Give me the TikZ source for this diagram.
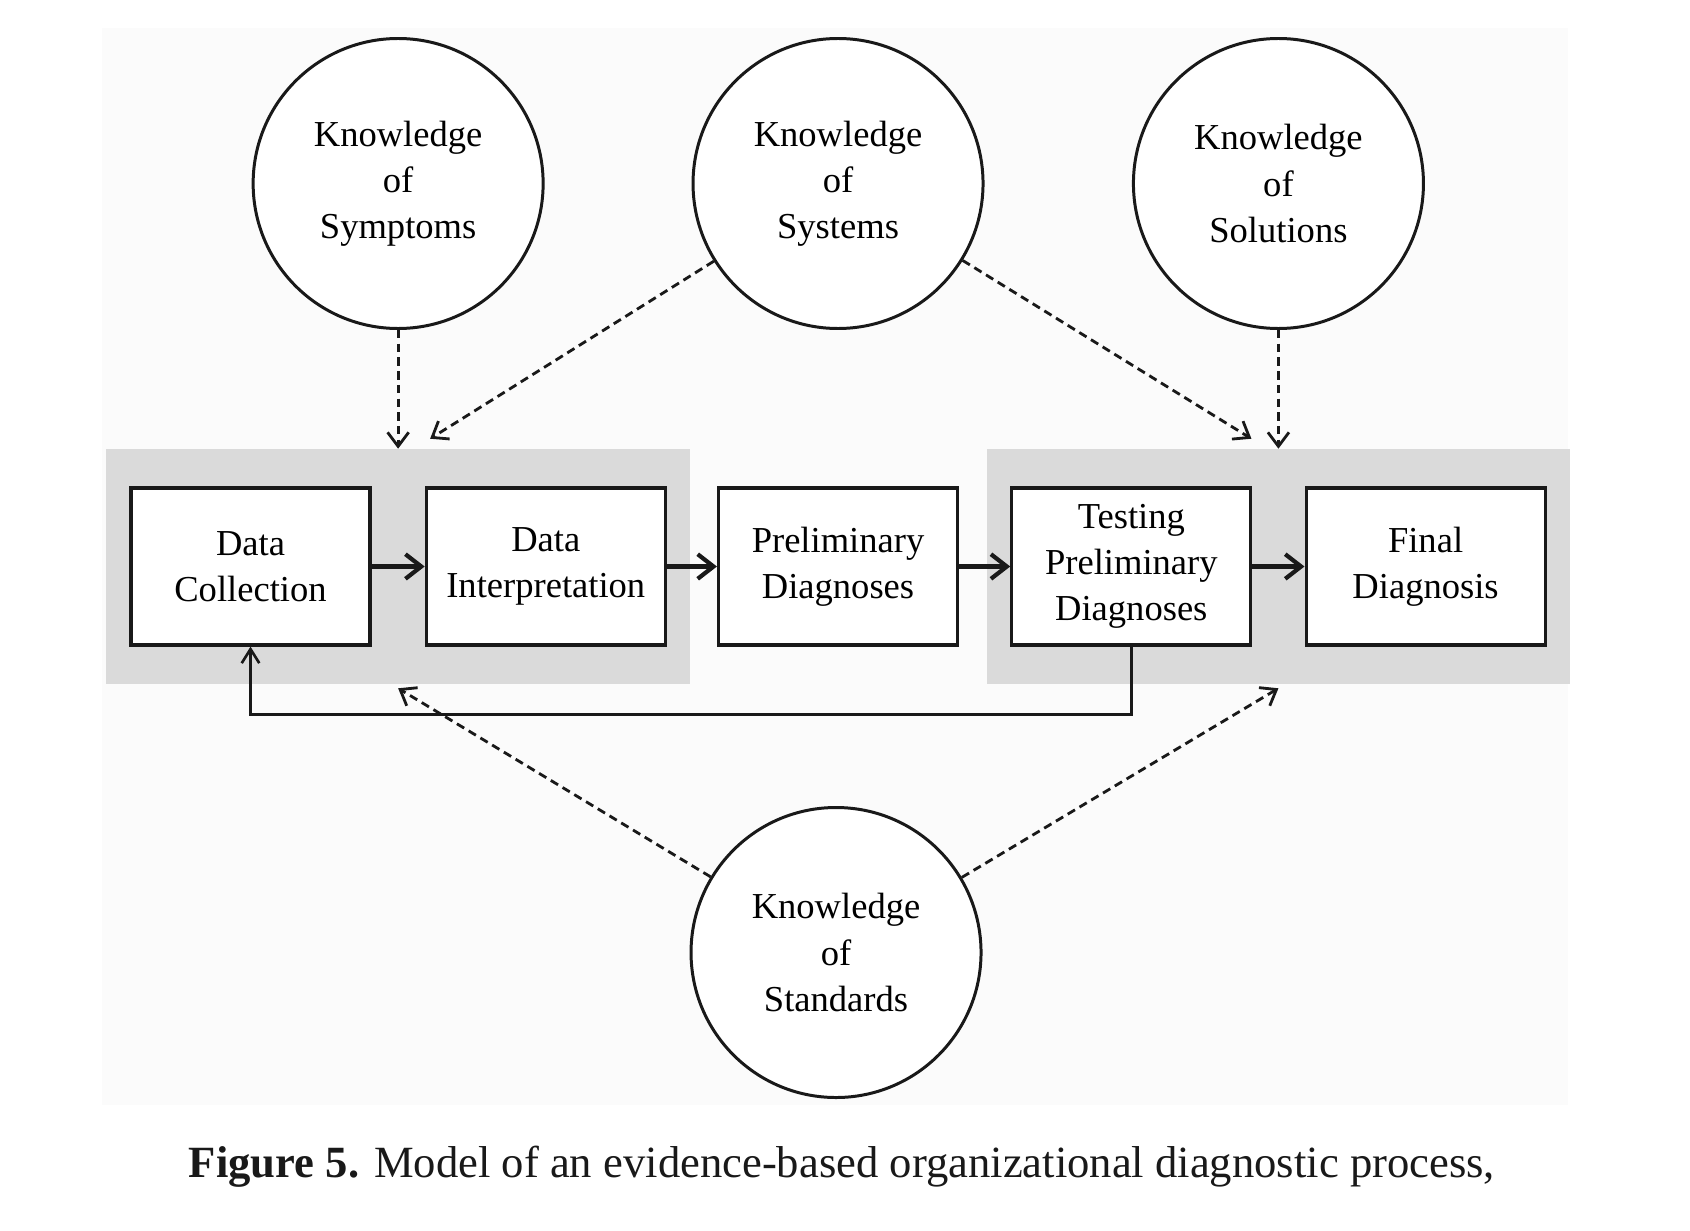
\documentclass[tikz,border=0pt]{standalone}
\usepackage{fontspec}
\setmainfont{Liberation Serif}
\usepackage{tikz}
\usetikzlibrary{arrows.meta,positioning,fit,calc,backgrounds}
\definecolor{bwblack}{RGB}{25,25,25}
\definecolor{bwshade}{RGB}{218,218,218}
\definecolor{bwpaper}{RGB}{251,251,251}
\newcommand{\boxfont}{\fontsize{10.4}{13.1}\selectfont}

\begin{document}
\begin{tikzpicture}[
    proc/.style={draw=bwblack,fill=white,line width=0.9pt,
                 minimum width=2.39cm,minimum height=1.57cm,align=center,
                 inner sep=1pt,font=\boxfont},
    know/.style={circle,draw=bwblack,fill=white,line width=0.85pt,
                 minimum size=2.9cm,align=center,font=\boxfont},
    stage/.style={fill=bwshade,inner xsep=0.23cm,inner ysep=0.37cm},
    arr/.style={-{Straight Barb[length=4.5pt,width=7pt,line width=1.2pt]},line width=1.2pt,bwblack},
    back/.style={-{Straight Barb[length=4pt,width=5pt]},line width=0.75pt,bwblack},
    darr/.style={-{Straight Barb[length=4pt,width=6pt]},line width=0.8pt,
                 dash pattern=on 2.4pt off 1.5pt,bwblack}
  ]
    \useasboundingbox (0,0) rectangle (16.9,-12.3);

    % process steps
    \node[proc] (dc) at (2.505,-5.665) {Data\\Collection};
    \node[proc,right=0.531cm of dc] (di) {Data\\Interpretation};
    \node[proc,right=0.501cm of di] (pd) {Preliminary\\Diagnoses};
    \node[proc,right=0.511cm of pd] (tpd) {Testing\\Preliminary\\Diagnoses};
    \node[proc,right=0.521cm of tpd] (fd) {Final\\Diagnosis};

    % knowledge bases
    \node[know] (symp) at ($(dc)!0.5!(di)+(0,3.83)$) {Knowledge\\of\\Symptoms};
    \node[know] (sys) at ($(pd)+(0,3.83)$) {Knowledge\\of\\Systems};
    \node[know] (sol) at ($(tpd)!0.5!(fd)+(0,3.83)$) {Knowledge\\of\\Solutions};
    \node[know] (std) at ($(pd)+(-0.02,-3.86)$) {Knowledge\\of\\Standards};

    \begin{scope}[on background layer]
      \fill[bwpaper] (1.02,-0.28) rectangle (15.68,-11.05);
      \node[stage,fit=(dc)(di)] (stg1) {};
      \node[stage,fit=(tpd)(fd)] (stg2) {};
    \end{scope}

    \draw[arr] (dc) -- (di);
    \draw[arr] (di) -- (pd);
    \draw[arr] (pd) -- (tpd);
    \draw[arr] (tpd) -- (fd);
    \draw[back] (tpd.south) -- ++(0,-0.68) -| (dc.south);

    \coordinate (inL) at ($(symp |- stg1.north)+(0.32,0.1)$);
    \coordinate (inR) at ($(sol |- stg2.north)+(-0.27,0.1)$);
    \coordinate (outL) at ($(symp |- stg1.south)+(0,-0.04)$);
    \coordinate (outR) at ($(sol |- stg2.south)+(0,-0.04)$);

    \draw[darr] (symp) -- (symp |- stg1.north);
    \draw[darr] (sol) -- (sol |- stg2.north);
    \draw[darr] (sys) -- (inL);
    \draw[darr] (sys) -- (inR);
    \draw[darr] (std) -- (outL);
    \draw[darr] (std) -- (outR);

    \node[font=\fontsize{12.7}{15}\selectfont,text=bwblack] (cap) at (8.42,-11.67)
      {\textbf{Figure 5.} Model of an evidence-based organizational diagnostic process,};
  \end{tikzpicture}
\end{document}
